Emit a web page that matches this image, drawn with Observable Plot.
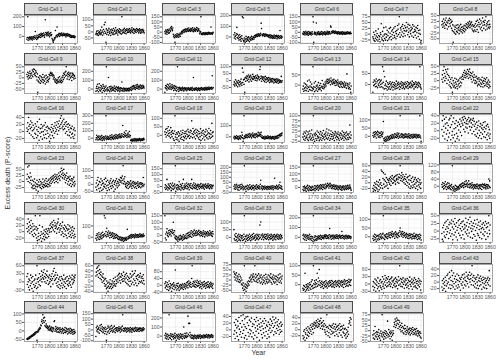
<!DOCTYPE html>
<html><head><meta charset="utf-8">
<script src="https://cdn.jsdelivr.net/npm/d3@7"></script>
<script src="https://cdn.jsdelivr.net/npm/@observablehq/plot@0.6"></script>
<style>
body{margin:0;background:#fff;font-family:"Liberation Sans",Arial,sans-serif;}
#chart{position:relative;width:500px;height:359px;overflow:hidden;background:#fff;}
.strip{position:absolute;box-sizing:border-box;background:#d9d9d9;border:0.5px solid #4d4d4d;font-size:5.1px;color:#333;text-align:center;line-height:11px;white-space:nowrap;}
.panel{position:absolute;}
.ttl{position:absolute;font-size:7px;color:#333;font-weight:normal;white-space:nowrap;}
</style></head><body><div id="chart"></div>
<script>
const firstYear = 1745;
const xTicks = [1770, 1800, 1830, 1860];
const cellIds = [1,2,3,5,6,7,8,9,10,11,12,13,14,15,16,17,18,19,20,21,22,23,24,25,26,27,28,29,30,31,32,33,34,35,36,37,38,39,40,41,42,43,44,45,46,47,48,49];

const cell1 = [-30,-12,200,-40,-18,-25,-8,-35,-15,-22, -5,-28,-10,-38,-20,-2,-15,-30,-12,5, 50,-20,-8,-32,10,-15,-25,2,-10,18, -5,20,8,-12,30,15,-2,25,5,12, 35,10,-8,22,170,40,15,28,5,38, 20,45,10,30,-5,25,12,40,8,18, -20,-35,-48,-60,-42,-30,-15,-25,60,-8, 5,10,95,-5,15,20,8,30,-2,25, 15,28,10,35,20,5,22,12,32,18, 8,25,15,-5,20,10,28,5,15,22, 12,-2,18,8,-8,10,2,-12,5,-5, 0,-10,8,-6,-15,-3];
const cell2 = [-20,-10,5,-25,-15,10,-30,-5,-18,0, -12,15,-22,-8,40,8,-28,-3,20,-15, 60,5,80,-10,-85,25,-20,10,-5,15, -25,30,0,-12,18,-30,8,-5,22,-18, 12,-8,28,-22,5,15,-15,35,-2,10, -10,20,-25,5,12,-5,25,0,-12,18, 8,-18,125,10,-8,22,-2,15,30,-10, 5,18,-15,12,25,-5,8,20,-2,15, 28,0,12,-8,22,5,35,10,-5,18, 25,-12,8,20,2,15,-5,28,10,22, 5,18,-8,12,25,0,15,-10,20,8, -5,15,22,2,10,-8];
const cell3 = [5,-15,20,-5,10,-20,25,0,15,-10, 30,-5,20,10,45,35,55,25,15,40, -20,-45,-30,-55,-98,-40,-25,-50,-35,-15, -45,-30,-20,-50,-38,-25,-10,-40,-18,-5, 5,-15,10,-5,20,15,0,25,8,30, 18,5,28,12,35,20,10,40,22,15, 25,8,35,18,30,12,42,20,5,28, 15,38,22,10,30,25,45,18,8,35, 20,30,12,-15,-5,5,150,-20,-12,-25, -10,-18,-5,-22,-15,-8,-25,-12,-3,-20, -15,-6,-22,-10,-2,-18,-12,-5,-20,-8, 50,-15,-5,-20,-10,-2];
const cell5 = [20,-10,40,5,-20,15,30,90,-5,25, -15,10,-30,-5,20,-25,0,-40,-15,10, 190,-20,180,-35,-45,-10,-30,-50,-20,5, -40,-15,-25,-5,-35,0,-20,-45,-10,-28, -8,-30,5,-18,-12,-25,0,-8,-20,10, -5,15,0,20,10,25,5,18,30,12, 22,8,28,15,35,130,80,20,10,25, 18,30,12,25,5,20,28,10,15,22, 8,18,2,15,-5,10,20,-10,5,15, -8,12,0,-15,8,-5,18,-12,3,10, -10,5,15,-18,0,8,-6,12,-15,2, 60,-8,10,-12,5,-3];
const cell6 = [-10,-20,5,-15,0,-25,-8,10,-18,-5, -22,2,-12,-28,8,-15,-5,-20,0,-10, -25,-8,5,-18,150,100,-95,-12,2,-20, -5,-15,90,-25,0,-10,-18,5,-8,-22, -12,2,-20,-6,-15,8,-10,-25,0,-14, -4,-18,5,-10,-22,0,-8,-15,10,-5, -20,2,-12,8,-5,-15,60,50,5,-8, 10,-2,15,0,8,-10,5,12,-5,2, -8,5,-15,0,-10,6,-12,-3,-18,2, -8,-15,0,-12,5,-20,-5,-10,2,-15, -6,-18,0,-10,-3,-15,5,-8,-12,0, -10,-5,-15,2,-8,-12];
const cell7 = [-12,-20,8,-27,-3,-31,-18,14,-8,-24, 3,-14,-30,22,-6,-22,-11,-33,6,-2, 45,-17,-25,12,-9,-29,28,-4,-19,1, -26,31,-13,-1,17,-28,-7,9,-21,24, -15,4,29,-10,-24,13,-3,19,-18,7, 26,-6,-14,33,11,-20,2,16,-9,37, 21,-2,44,75,6,-13,27,18,-4,33, 9,41,-11,24,3,15,36,-7,28,12, 50,17,31,-3,42,8,23,-12,38,14, 2,30,19,-8,25,40,7,-14,34,11, 20,-5,13,29,-17,6,24,37,-10,16, 4,-22,18,-1,-35,-28];
const cell8 = [10,25,0,15,35,5,20,-5,30,12, 40,8,22,-8,18,30,2,28,38,15, 5,32,20,-5,25,-15,10,-65,-20,5, -25,-10,0,-30,8,-18,-5,-22,10,-12, -2,-28,5,-15,-8,12,-20,0,-10,-25, 2,-15,-5,8,-20,-8,5,-12,15,0, 10,-5,20,2,15,8,25,-2,12,18, 5,22,-8,10,-15,3,-20,8,-12,0, 15,-18,25,5,-10,30,10,-22,20,2, 35,12,-8,28,0,18,-15,40,8,25, -5,20,10,30,-12,45,5,15,-8,22, 10,0,28,-5,12,2];
const cell9 = [15,5,25,-5,10,20,0,30,8,18, -2,22,12,35,5,28,40,15,38,20, 10,32,25,5,-10,18,-65,-15,2,-20, -5,10,-25,-12,5,-18,0,-8,15,-22, -10,2,-15,8,-28,-5,12,-20,0,-12, 5,-18,-8,15,-2,10,20,25,12,18, 22,8,15,-5,10,2,-10,-18,-5,-20, -12,-25,-8,-15,-22,0,-18,-10,5,-20, -15,-5,-22,-12,2,-18,10,-8,20,0, 15,25,8,30,50,12,-5,20,5,15, 25,-8,10,18,0,22,5,-12,12,20, 2,15,-5,10,8,-2];
const cell10 = [-25,10,30,-15,55,5,-30,20,60,-10, 15,-20,40,0,25,-35,10,50,-15,30, 5,-25,20,-10,35,250,0,-20,15,-5, 130,-15,25,-30,10,-8,30,-22,5,18, -12,20,0,-18,35,8,-25,12,-5,25, -8,15,-20,5,22,-12,10,-28,0,15, -15,8,80,-20,2,-10,12,-25,5,-8, -18,0,10,-12,-22,5,-6,-15,8,-20, 2,-10,15,-5,20,-15,10,30,0,25, 40,5,20,35,-5,15,45,10,28,50, 8,22,35,-2,30,15,45,20,5,38, 25,10,42,18,30,12];
const cell11 = [-35,15,40,5,30,-10,55,20,10,45, 0,25,60,12,35,-5,20,50,8,30, 15,-15,40,5,25,-10,30,10,-20,20, 250,-5,15,-25,5,20,-12,8,-5,12, -15,5,20,-8,10,-20,2,15,-10,8, -5,12,-18,0,10,-8,15,-2,5,-12, 8,-5,15,-10,2,20,-15,5,130,-8, 10,-12,2,8,-5,15,-10,5,-18,0, 12,-6,8,-15,3,10,-8,18,-2,6, -10,12,2,-5,15,-12,8,0,20,-6, 5,18,-8,10,2,22,-5,12,8,15, 3,20,-2,150,10,18];
const cell12 = [-30,-10,-40,-20,5,-25,-35,-5,-15,-45, -20,0,-30,-12,-40,-8,-25,10,-18,-35, 90,-15,60,5,-28,10,-85,20,-5,25, 15,35,0,28,10,40,-10,22,30,5, 38,18,-5,25,12,45,8,30,15,20, 28,2,35,15,22,-2,40,12,30,18, 25,5,80,100,15,32,-5,20,10,28, 18,2,25,-8,12,30,5,-12,20,8, 15,-5,22,0,10,-15,18,5,-8,12, 2,-10,15,-5,8,-18,10,0,-12,5, -8,12,-15,2,-5,10,-20,-2,5,-10, -15,0,-5,30,-12,-2];
const cell13 = [-20,-5,-30,10,-15,-25,5,-10,-28,0, -18,20,-8,-30,-12,25,-22,-5,15,-25, -10,5,-28,-15,90,-20,-8,10,-32,-12, 18,-25,-5,-18,0,-30,-10,12,-22,-15, -2,-20,8,-12,-28,-6,22,-15,-8,5, -18,0,-10,15,5,-5,20,10,28,18, 8,25,12,30,15,22,2,35,18,10, 25,5,20,12,28,8,15,-2,22,10, 18,0,12,25,5,-5,15,8,-10,10, 2,18,-8,5,12,-12,8,0,-5,15, -10,5,-2,10,-15,55,0,8,-8,-18, 2,-12,10,-20,-35,-5];
const cell14 = [-35,10,-5,20,0,15,-10,5,25,-8, 12,-15,18,2,-5,22,8,-12,15,0, 20,-10,5,80,-15,10,60,-20,35,-5, 2,-18,15,-8,-25,8,-12,0,-20,5, -10,12,-22,-2,5,-15,-8,10,-25,0, -12,8,-5,-20,2,-10,15,-18,-3,5, -15,10,0,-8,-22,5,-12,2,12,-5, -18,8,-2,-12,5,-20,0,10,-8,-15, 3,-10,12,-5,-18,8,0,-12,5,-8, 10,-15,2,-5,15,-10,-2,8,-20,0, 5,-12,12,-8,0,8,-15,2,-5,10, -10,5,80,-2,-12,-20];
const cell15 = [5,20,-5,35,10,48,25,0,15,38, 8,30,-10,22,40,2,18,-15,12,-5, -20,5,-25,-10,10,-40,-15,0,-22,-8, -18,8,-25,-5,-12,5,-20,-28,-2,-15, 2,-10,-22,8,-5,-18,12,-8,5,15, 20,5,28,12,35,18,25,10,30,22, 15,38,25,8,32,20,40,12,28,18, 5,25,-5,15,30,10,2,20,-8,12, 0,-10,15,-5,8,-18,5,-12,10,-2, -15,5,-8,-20,2,-12,12,-5,-22,0, -10,8,-18,-2,5,-15,-8,10,-20,-5, -12,2,-25,-15,-5,-20];
const cell16 = [10,0,25,5,40,15,-5,20,8,30, -10,12,25,2,-15,18,5,-20,10,-5, 22,-8,15,-18,5,28,-12,0,12,-25, 35,-5,8,-15,20,-2,10,-22,15,0, -10,18,-18,5,25,-8,12,-20,2,15, -5,10,-15,8,-28,-10,5,-20,12,-2, 20,-12,8,2,-18,15,-5,25,10,0, 18,5,28,-8,12,22,2,30,15,8, 38,20,45,25,10,30,15,5,35,20, 8,25,-5,15,28,0,20,-10,12,22, 5,-12,18,-2,10,-18,8,-8,15,-5, -15,5,-20,10,-10,2];
const cell17 = [-20,5,40,-10,20,-25,10,30,-15,0, 25,-20,15,-5,35,-30,10,-12,20,0, -25,15,-8,30,300,5,-18,25,-5,10, -15,20,0,-10,35,8,-20,15,45,-5, 10,25,-12,30,5,40,-8,18,50,2, 20,35,-5,15,45,10,28,55,5,22, 40,12,60,30,170,20,50,15,80,35, 60,25,100,40,10,55,30,70,20,45, 90,15,35,-30,-20,-35,-15,-25,-38,-10, -28,-20,-35,-5,-25,-15,-40,-22,-8,-30, -18,-32,-12,-25,-5,-20,-35,-10,-28,-15, -22,-8,-30,-12,0,-18];
const cell18 = [20,5,35,-10,15,40,0,25,50,10, -5,30,15,-15,45,5,20,-8,28,12, -20,10,-30,25,115,-10,5,-25,15,-15, 8,-28,20,-5,-35,12,0,-20,25,-12, 5,-25,15,30,-8,-30,10,-15,22,-5, 12,-20,25,5,-10,35,-5,20,0,-18, 15,30,-8,25,85,10,-15,40,5,20, -10,28,12,-20,35,0,18,-5,30,8, -15,22,-25,10,-8,38,-30,15,0,25, -20,12,30,-10,5,-28,20,-5,35,0, -15,25,8,-22,15,40,-8,10,-18,28, 5,-12,70,15,-5,20];
const cell19 = [-10,5,-20,0,-5,-15,10,-8,-18,2, -12,-25,5,-8,-15,10,-20,0,-5,40, 15,-10,-40,-18,190,5,-12,8,-5,20, -2,15,-8,10,25,0,18,-5,30,12, 5,20,-10,22,8,35,2,15,-5,25, 10,-8,18,30,5,22,-2,12,40,8, 25,15,35,5,20,40,-5,10,-12,-5, -15,0,-10,-20,5,-8,-18,2,-12,-5, -15,8,-10,-2,-18,0,-8,5,-12,-20, -5,-15,2,-10,-18,0,-8,-22,5,-12, 0,-10,5,-15,8,-5,12,-8,15,20, 5,25,10,30,15,35];
const cell20 = [-5,10,-15,20,0,-20,15,-10,25,-5, 5,-15,20,-22,10,-8,25,0,-18,12, -10,30,-20,5,-5,100,-15,10,-25,2, 15,-12,8,-20,25,0,-10,18,-5,-22, 10,-15,22,-8,5,-20,15,0,-12,28, -5,8,-18,12,0,20,-10,35,5,-15, 15,-8,30,2,-20,10,-12,25,-2,8, -15,18,0,-10,12,-22,5,22,-8,15, 0,-18,10,-5,20,-12,8,-20,2,15, -8,12,-15,5,25,-10,0,18,-20,8, -5,15,-12,2,20,-18,10,-8,5,-15, 12,-5,55,20,-10,5];
const cell21 = [5,20,-5,25,10,0,28,15,-10,22, 8,30,12,-5,25,2,18,-8,20,5, 28,10,-2,15,25,90,-15,-25,-10,-30, -20,-5,-28,-12,-18,0,-25,-8,-15,-2, -20,-10,5,-15,0,-8,10,-12,2,-5, 8,-10,15,0,-5,12,-8,5,20,-2, 10,-12,18,2,-5,125,8,-8,15,0, 12,-5,5,-10,10,2,-8,15,-2,8, -5,12,0,-10,8,-2,15,-8,5,-12, 2,10,-5,8,-10,0,12,-8,5,-2, 10,-6,2,12,-10,5,-2,8,-8,3, 10,-5,125,2,-10,-30];
const cell22 = [3,27,-14,40,12,-4,31,-22,18,7, 36,-9,21,-26,1,14,-17,29,-6,33, 9,-24,40,16,-12,-2,24,-19,34,5, -11,19,-28,8,27,-7,-21,13,-15,23, 2,-25,17,31,-4,11,26,-13,20,35, 15,29,4,38,22,-3,33,10,19,26, 7,30,18,-6,35,24,11,27,2,31, 21,9,-8,28,16,33,-2,25,12,-11, 18,4,-15,23,8,-7,14,-19,26,1, -13,11,19,-5,-21,7,15,-9,3,22, -16,9,-3,24,-18,5,13,-11,-24,17, -6,10,-14,3,-20,-9];
const cell23 = [10,30,60,0,20,65,15,-5,35,5, 20,-10,-25,5,-18,-30,0,-15,10,-28, -5,-20,-35,-10,5,-22,-12,-40,-2,-18, 8,-15,-25,0,-10,-30,-5,-20,10,-12, -25,-2,-15,5,-20,-8,12,-18,0,-10, -22,5,-12,10,-5,-18,2,15,-8,8, 20,-2,12,25,5,18,-5,30,10,22, 0,15,28,8,-5,20,35,12,25,5, 40,20,55,30,45,15,35,25,50,10, 30,18,-5,25,5,35,12,-10,20,0, 15,-15,8,22,-8,5,-20,12,2,-12, 10,-5,18,-18,0,-10];
const cell24 = [-20,10,-40,30,-10,50,0,-30,20,-50, 15,-25,40,-5,-45,25,5,-35,10,-15, 35,-20,0,45,-30,20,-10,-45,30,-5, -25,15,-40,5,25,-15,40,-30,10,-8, 20,-20,30,-50,0,15,-35,25,-10,40, 5,-25,20,-12,10,35,-5,30,15,50, 25,45,10,60,30,135,5,40,20,55, 0,-15,10,-25,5,-10,20,-30,0,15, -20,8,-5,25,-15,2,-28,12,-8,20, -12,5,-25,15,0,-18,10,-30,5,-10, 18,-5,-22,8,-15,2,12,-25,-2,10, -18,5,-8,50,-12,0];
const cell25 = [-10,15,-25,5,-15,60,-5,-30,20,-12, 10,-20,0,25,-8,-35,12,-18,30,2, -25,8,-15,20,-5,175,-40,10,-20,-8, 15,-28,5,-12,40,-22,0,18,-30,-5, 10,-18,25,-8,60,-25,5,-12,20,-2, -15,8,30,-20,0,15,-10,22,-28,5, 12,-8,25,-15,60,5,-20,15,-5,30, -10,8,-18,20,0,-12,10,-25,5,18, -5,12,-20,2,15,-8,25,0,-15,10, -2,18,-12,5,-22,12,0,20,-8,5, -15,10,-5,22,2,-12,8,-20,15,0, -8,12,-18,5,-2,10];
const cell26 = [10,-15,25,0,-20,15,30,-8,5,-25, 20,-5,-30,12,0,25,-18,8,-10,30, -5,15,-25,5,-12,215,0,-20,10,-40, 5,-15,20,-8,-25,12,0,-18,25,-5, -10,8,-22,15,0,-12,20,-5,-28,10, 2,-15,12,-8,25,-20,5,-2,15,-12, -5,10,-18,30,70,2,-10,15,-25,5, -12,8,-2,-20,12,-8,0,-15,5,-22, -2,10,-12,5,-20,0,8,-15,-5,12, -18,2,-8,15,-25,-5,10,90,-12,0, 8,-15,20,-5,5,-20,12,-10,25,0, 50,-8,15,-12,5,-20];
const cell27 = [-15,5,-25,-5,10,-20,0,-10,-28,5, -8,15,-18,-2,-25,10,-12,5,-20,0, -5,-22,8,-15,2,160,-18,-8,12,-25, -5,10,-15,5,-10,15,0,-20,8,-5, 12,-12,20,2,-8,15,5,-15,22,0, 10,-5,18,-10,25,5,-2,15,8,30, 12,20,-5,10,25,30,5,15,-8,18, 2,12,-10,8,20,-5,10,-15,5,15, -8,2,-12,10,-18,0,8,-10,-2,12, -15,5,-5,-20,8,0,-12,10,-5,-18, 5,-10,12,-2,-15,8,-8,15,0,-12, 10,-5,18,2,-10,-20];
const cell28 = [-20,-30,-10,-25,0,-15,-28,-5,-18,5, -22,-8,-30,2,-12,-25,10,-5,-18,0, 45,-10,40,-20,15,35,-5,10,-15,30, 5,-12,18,0,-8,12,-20,8,2,15, -5,10,20,-10,5,15,25,-2,12,0, 18,8,22,5,-5,25,10,15,28,2, 12,20,-2,30,18,60,8,25,15,35, 5,20,28,10,0,15,22,-5,12,30, 5,-10,18,0,22,-15,10,-5,25,-20, 8,-12,15,2,-18,20,-8,5,-15,12, -5,18,-20,0,10,-12,5,-25,15,-8, 2,-15,10,-5,-20,0];
const cell29 = [10,-5,20,0,-15,15,5,-10,25,-2, 8,-18,12,-5,20,-12,0,15,-8,5, -15,2,-20,10,-5,115,-12,-25,-2,-18, -10,-28,5,-15,-22,0,-12,-5,-20,-8, -2,-15,5,-10,8,0,12,-5,15,2, 20,5,-8,15,8,25,-2,10,30,12, 2,18,-5,10,30,8,-8,15,0,12, -10,5,20,-5,8,-15,2,10,-8,0, 5,-12,8,-2,12,-10,0,6,-15,5, -5,10,-12,2,8,-18,0,12,-5,8, -10,5,12,-8,2,-15,10,0,-5,8, -12,5,40,-2,30,-8];
const cell30 = [10,25,0,40,15,5,30,-5,20,10, 35,0,15,-10,25,5,-15,18,-5,8, 50,-10,15,-20,5,-28,10,-15,-5,-25, 20,50,-12,-20,0,-30,-8,15,-22,-5, -15,5,-25,-10,0,-18,8,-5,-20,2, -8,10,-15,5,-2,20,10,25,0,15, 30,12,22,5,35,18,0,28,10,20, 15,-5,25,8,30,40,12,-2,20,5, 25,10,-10,18,0,30,-5,12,-15,8, 20,-8,2,15,-12,10,-20,5,22,-5, 8,-15,18,0,-10,12,-18,5,-5,15, -12,2,-20,10,-8,-15];
const cell31 = [-10,15,-25,30,0,20,-15,40,5,-20, 25,-5,10,35,-12,18,45,0,22,10, 190,30,170,15,50,5,80,25,40,10, 55,20,35,-5,45,15,30,0,25,40, 10,35,-10,20,5,30,-8,15,-2,25, 0,15,-12,8,-20,5,-15,-5,-25,2, -18,-8,-30,-2,-22,-12,-35,-5,-15,-28, -10,-20,0,-25,-8,70,-15,5,-10,8, -5,15,2,20,-8,10,25,0,18,5, 22,8,-5,15,28,2,12,20,-2,25, 10,18,0,22,8,30,5,15,25,12, 2,20,10,28,8,15];
const cell32 = [150,-20,10,-35,25,50,0,15,-10,35, 20,5,40,10,30,-5,25,45,15,35, 100,20,5,35,-15,-25,-5,-30,-10,-35, -20,-45,-15,-28,-5,-35,-22,0,-30,-12, -25,-8,-38,-18,5,-30,-12,-25,-2,-20, -15,10,-25,-5,15,-18,0,20,-10,5, 25,-8,12,35,-15,20,5,30,-5,15, 40,10,-2,25,15,35,0,20,8,30, 12,38,5,22,-5,30,15,0,25,10, -8,20,35,5,15,-12,28,10,2,22, 15,-5,30,8,20,-2,12,35,5,18, 25,0,15,-8,30,10];
const cell33 = [50,-10,15,-20,5,25,-15,0,-25,10, -5,20,-18,5,-12,15,-22,0,10,-8, 12,-20,2,-15,20,140,-10,5,-25,8, -12,15,-5,-20,10,0,-15,20,-8,5, -22,12,-2,-15,18,5,-10,25,-5,0, 10,-18,15,2,-10,20,-5,12,-15,5, 18,-8,80,0,100,15,-12,10,22,-2, 8,-15,15,0,20,-8,5,18,-12,10, -5,22,2,-15,12,-2,15,-10,5,20, -8,10,0,-18,15,5,-10,18,-2,8, -15,12,2,20,-8,5,15,-12,0,10, -5,18,-10,5,12,-2];
const cell34 = [20,-15,30,5,-25,15,-5,25,-30,10, -10,20,0,-20,15,-8,30,-25,5,-15, 10,-30,-10,5,-40,220,-20,0,-35,15, -25,5,-15,-30,10,-8,-20,0,15,-12, 5,-18,20,-5,-22,12,0,-10,18,-2, -15,8,22,-5,10,25,-12,15,5,-8, 18,0,-15,25,90,10,-5,20,-20,8, 15,-10,22,2,-18,12,-5,20,0,-12, 10,25,-8,5,18,-15,12,0,22,-5, 8,-12,15,60,-2,20,-10,5,12,-18, 2,15,-8,20,5,-15,10,-2,18,-10, 5,12,-5,8,-12,2];
const cell35 = [-10,5,-20,0,15,-15,-5,10,-25,2, -12,8,-18,5,-8,12,-15,0,18,-5, 5,-10,15,-2,20,120,-8,10,-15,5, 0,12,-5,18,2,-10,15,5,22,-2, 10,25,-5,15,8,20,30,0,12,18, 5,22,-8,15,28,10,0,20,12,-5, 18,8,25,2,35,50,15,28,5,20, 12,30,-2,18,8,25,5,15,-5,10, 20,0,12,-8,15,5,-10,8,18,-2, 10,-5,15,-12,2,12,-8,5,20,0, -10,8,2,15,-5,10,-15,5,12,-8, 2,-12,15,-5,8,-18];
const cell36 = [-8,-27,11,-33,19,-3,-16,27,-21,6, 32,-11,14,-2,37,9,-24,21,-6,29, 3,-17,24,36,-9,13,-28,31,7,-13, 22,41,-4,16,-19,27,3,-29,12,34, -7,19,38,-14,8,25,-22,1,30,14, -12,33,6,-26,21,10,-3,42,17,-9, 28,4,-16,37,13,-6,24,45,-20,9, 31,-1,18,-23,7,26,-11,15,35,-17, 2,23,-30,11,38,-8,19,-14,29,5, -21,16,33,-4,8,-25,22,12,-10,27, 6,-15,19,-2,31,-27,11,24,-7,14, -18,27,50,3,-9,20];
const cell37 = [20,-10,30,0,-20,10,-30,5,-15,25, -5,15,-25,0,20,-35,-10,5,-20,10, -15,25,-5,-25,60,10,-20,0,15,-10, 30,5,-15,20,10,40,0,25,15,35, 10,45,20,0,30,15,-5,25,40,5, 20,-10,15,-5,25,0,10,-18,20,5, 30,12,-8,40,20,50,5,25,10,35, -5,15,-15,25,0,-20,10,-10,18,-25, 5,-15,20,-5,12,-22,8,-12,25,0, -18,10,-5,15,-25,2,20,-10,5,-15, 12,-5,22,0,-12,15,-20,8,25,-8, 10,-2,20,5,15,25];
const cell38 = [20,35,50,25,55,40,15,60,30,45, 10,25,35,5,20,-5,15,28,0,12, -10,5,-20,10,-15,-30,0,-25,-8,-40, -20,-5,-28,-12,5,-22,-10,-30,-15,0, -25,-8,10,-18,-2,-12,15,-20,5,-10, 0,20,8,-5,25,12,30,2,18,-8, 15,28,5,22,-2,10,35,0,18,8, 25,-5,12,30,-10,20,5,-15,15,-2, 10,-20,28,0,15,-12,20,38,-5,25, 8,-15,30,2,40,-8,18,10,-18,22, 5,25,-10,15,-2,20,30,-5,12,0, 18,-8,10,25,2,-12];
const cell39 = [10,-15,20,-5,0,-25,15,-10,5,-30, 25,-8,-20,10,-12,0,-35,5,-18,8, -5,15,-25,2,-10,90,-15,0,-28,10, -5,-20,12,-12,-30,0,-8,-22,5,-15, -2,-18,8,-10,-25,2,-12,10,-5,-20, 5,-10,15,-2,20,-15,8,25,0,12, -8,18,5,-12,40,115,10,-5,22,2, 15,-8,25,5,-12,18,0,30,-5,12, 20,-2,10,-15,25,5,-8,15,-20,8, 0,18,-10,5,22,-5,12,-18,8,-2, 15,-12,5,20,-8,2,-15,10,-5,18, 5,-10,12,-2,-18,8];
const cell40 = [40,15,30,0,25,10,35,-5,20,5, 15,-8,28,2,-12,18,-5,10,-20,0, -25,-40,-15,-50,-30,70,-45,-20,-35,-55, -25,-40,-10,-30,-18,-5,-25,10,-8,15, 0,25,5,-10,20,12,30,2,18,-5, 70,10,28,-8,15,0,22,-12,5,30, 8,-5,20,-15,12,25,-10,5,-20,15, 0,-12,22,-5,10,-18,28,2,-8,15, -15,5,25,-10,0,20,-5,12,30,-12, 8,-20,15,2,25,-8,10,-15,20,5, -10,18,0,-22,12,-5,25,5,-12,10, 30,-5,15,-15,5,20];
const cell41 = [-20,-30,-5,-25,-10,60,-35,-15,0,-28, -8,-20,5,-12,-30,-2,10,-18,0,-25, 15,-10,25,-5,-20,100,5,-15,20,0, 10,-12,25,5,60,-8,15,35,0,80, 20,-5,10,-15,5,18,-10,0,12,-20, 8,-5,15,-12,2,20,-8,10,-18,5, -2,15,-10,8,20,-5,12,0,22,-12, 5,18,-8,10,2,-15,15,-2,20,8, -10,12,0,18,-5,8,22,-12,5,15, -2,10,20,-8,12,0,18,-15,8,25, 2,15,-10,20,5,-5,22,10,-8,15, 28,0,12,20,-5,25];
const cell42 = [-10,10,-25,5,-15,20,0,-30,15,-5, 8,-20,25,-12,2,-28,12,-8,18,-15, 5,-22,10,30,-10,0,20,-18,8,35, -5,15,25,-12,5,20,-8,30,10,-2, 18,5,-10,22,0,28,12,-15,8,15, -5,20,2,-12,25,10,-8,18,5,-20, 12,30,-5,15,75,0,22,-10,8,18, -12,5,25,-2,12,-18,8,20,-5,15, 0,-15,22,5,-8,15,-20,10,28,-2, 12,-10,5,20,-22,8,0,15,-12,25, 5,-8,18,-15,10,2,-20,12,-5,22, 8,-12,15,0,-25,10];
const cell43 = [-15,5,-25,-5,10,-20,0,-10,15,-28, 5,-12,20,-5,25,0,-18,10,30,-8, 15,-20,5,35,-10,20,2,-15,28,-5, 10,-22,18,0,-12,8,25,-18,5,-8, 20,-15,2,12,-25,8,-5,15,-10,22, 0,-18,10,25,-8,15,5,-12,30,2, 18,-5,12,22,-15,8,30,0,20,10, -8,25,50,5,15,-10,20,2,-15,12, -5,8,-18,15,0,-10,22,-20,5,12, -12,2,18,-8,10,-22,5,-2,15,-15, 8,-5,-18,12,0,-10,5,-20,10,-2, 15,-8,5,35,10,-12];
const cell44 = [-48,-45,-50,-42,-46,-38,-44,-35,-40,-32, -36,-28,-33,-25,-30,-20,-26,-15,-22,-10, -18,-8,-12,-5,-55,-2,-8,5,0,12, 8,20,15,35,30,55,65,45,95,60, 75,50,80,30,60,25,40,20,30,15, 25,5,18,10,28,2,15,8,22,0, 12,-5,20,5,15,55,60,-2,10,25, 0,15,-8,8,20,-5,12,-10,5,18, -2,10,-12,8,-5,15,2,-15,10,-8, 5,20,-10,0,15,-5,8,-18,-2,12, -12,5,-8,15,-2,-15,10,0,-10,5, -20,-5,8,-15,-2,-10];
const cell45 = [-60,20,-10,35,5,-20,10,25,-30,0, 40,-5,15,50,-15,30,5,-25,20,-10, 10,-35,25,-15,5,-95,-40,15,-20,35, -10,20,-30,5,30,-15,10,40,-5,15, -20,25,0,-12,35,8,-25,15,-5,20, 5,-15,20,-8,10,30,-2,15,-20,8, 25,-10,5,35,140,-5,15,-15,10,0, 20,-8,12,-20,5,18,-12,0,15,-5, 8,-18,22,2,-10,12,-22,5,18,-8, 0,15,-15,10,25,-5,8,-12,20,2, -8,15,5,-15,10,20,-5,12,0,-10, 15,5,-8,20,2,10];
const cell46 = [10,-20,30,0,-30,15,-10,20,-35,5, 235,-15,10,-25,25,0,-40,15,-10,20, -5,-30,10,-15,30,-20,0,-45,15,-10, 5,-25,20,-8,-35,10,-15,25,-5,-20, 15,0,-28,20,-10,100,5,-22,30,-8, 10,-15,35,0,-5,220,20,140,5,140, 40,-10,15,-20,5,-25,10,-15,0,-30, -8,12,-20,5,-12,-28,0,-18,10,-5, -22,8,-10,-2,15,-25,0,-12,5,-18, 2,-8,12,-20,0,10,-15,5,-5,18, -10,2,-18,8,15,-5,-20,10,0,-12, 5,18,-8,10,-15,2];
const cell47 = [-13,22,-3,-26,14,31,-9,6,-19,26, 11,-30,37,2,-14,19,-6,42,-22,8, 27,-11,45,-1,16,-24,33,9,-17,38, 4,-28,21,40,-8,13,-19,29,1,-12, 24,-3,35,-21,10,18,-9,-27,15,31, -16,6,25,-4,37,-23,12,2,28,-10, 17,-31,8,33,-2,21,-14,11,-24,26, 3,-9,19,34,-18,6,27,-5,14,-26, 10,-13,23,-1,-21,16,5,32,-8,13, 26,-3,19,38,7,-15,30,12,-6,21, 35,-10,4,24,14,-2,30,9,-13,18, 1,-7,23,11,-4,16];
const cell48 = [-20,-30,-5,-25,0,-35,-10,-15,5,-28, -2,-18,10,-8,-22,5,-12,0,15,-5, 8,-15,20,2,12,-10,18,25,5,15, 22,10,30,15,25,8,35,20,12,28, 18,30,5,38,22,12,25,2,15,30, 10,20,0,-8,15,-15,8,50,-5,10, -20,5,-10,15,-25,0,12,-15,8,-5, 15,-12,5,20,-8,10,-20,2,18,-5, 8,-15,12,0,-22,15,5,-10,20,-2, 10,-18,0,12,-25,5,-8,15,-12,2, -20,5,-15,-28,0,-10,-22,-5,8,-15, 20,30,25,40,15,35];
const cell49 = [-20,-35,0,-15,-40,20,-25,-10,-30,-5, -18,-40,-8,-28,5,-22,-35,-12,-45,-2, -25,-15,75,-30,-8,-20,-40,-10,-28,0, -15,-35,-5,-22,-12,45,-30,-18,5,-25, -8,-38,-15,-2,-28,-10,-45,-20,0,-12, 20,40,30,55,15,45,25,60,35,50, 10,30,48,18,40,5,25,-5,15,35, 0,20,-10,12,-15,8,25,-5,10,-18, 2,-10,18,-2,8,-15,5,-8,12,-20, 0,10,-12,5,-5,15,-18,2,-10,8, -15,5,-5,-20,10,-12,-2,-25,0,-15, -8,-22,-5,-30,-12,-35];

const cellValues = [cell1,cell2,cell3,cell5,cell6,cell7,cell8,cell9,cell10,cell11,cell12,cell13,cell14,cell15,cell16,cell17,cell18,cell19,cell20,cell21,cell22,cell23,cell24,cell25,cell26,cell27,cell28,cell29,cell30,cell31,cell32,cell33,cell34,cell35,cell36,cell37,cell38,cell39,cell40,cell41,cell42,cell43,cell44,cell45,cell46,cell47,cell48,cell49];

const cellTicks = [
 [0,100,200],[-50,0,50,100],[-100,-50,0,50,100,150],[0,100,200],[-100,-50,0,50,100,150],[-25,0,25,50,75],[-50,-25,0,25,50],
 [-50,-25,0,25,50],[0,100,200],[0,100,200],[-50,0,50,100],[0,50],[0,50],[-25,0,25,50],
 [-20,0,20,40],[0,100,200,300],[-50,0,50,100],[0,100],[-25,0,25,50,75,100],[0,50,100],[-20,0,20,40],
 [-25,0,25,50],[-50,0,50,100],[-50,0,50,100,150],[-50,0,50,100,150,200],[0,50,100,150],[-20,0,20,40,60],[0,40,80,120],
 [-20,0,20,40],[0,100],[-50,0,50,100,150],[0,50,100],[0,100,200],[0,50,100],[-25,0,25,50],
 [-30,0,30,60],[-40,-20,0,20,40,60],[-40,0,40,80],[-50,-25,0,25,50,75],[0,50,100],[-30,0,30,60],[-20,0,20,40],
 [-50,0,50,100],[-100,-50,0,50,100,150],[0,100,200],[-20,0,20,40],[-20,0,20,40],[-50,-25,0,25,50,75]
];

// ---- layout ----
const chart = document.getElementById("chart");
const nCol = 7, colPitch = 69.1, rowPitch = 49.7, x0 = 24, y0 = 3;
const pw = 53, stripH = 12, ph = 28;
const ml = 22, mr = 4, mb = 12;
const fontFam = '"Liberation Sans", Arial, sans-serif';

function expand([lo, hi]) { const p = (hi - lo) * 0.05; return [lo - p, hi + p]; }
function minorOf(ticks, dom) {
  const step = ticks.length > 1 ? ticks[1] - ticks[0] : 50;
  const out = [];
  for (let t = ticks[0] - step * 1.5; t <= dom[1]; t += step) if (t >= dom[0]) out.push(t);
  return out;
}

cellIds.forEach((id, k) => {
  const r = Math.floor(k / nCol), c = k % nCol;
  const left = x0 + c * colPitch, top = y0 + r * rowPitch;
  const vals = cellValues[k];
  const data = vals.map((v, i) => ({year: firstYear + i, value: v}));
  const xDom = expand(d3.extent(data, d => d.year));
  const yDom = expand(d3.extent(vals));
  const yt = cellTicks[k].filter(t => t >= yDom[0] && t <= yDom[1]);
  const xMinor = minorOf(xTicks, xDom);
  const yMinor = minorOf(cellTicks[k], yDom);

  const strip = document.createElement("div");
  strip.className = "strip";
  strip.style.left = left + "px";
  strip.style.top = top + "px";
  strip.style.width = pw + "px";
  strip.style.height = stripH + "px";
  strip.textContent = "Grid-Cell " + id;
  chart.appendChild(strip);

  const svg = Plot.plot({
    width: ml + pw + mr, height: ph + mb,
    marginLeft: ml, marginRight: mr, marginTop: 0, marginBottom: mb,
    style: {fontSize: "5.1px", fontFamily: fontFam, color: "#555", background: "transparent", overflow: "visible"},
    x: {domain: xDom, ticks: xTicks, tickSize: 2, tickPadding: 1, tickFormat: d => String(d), label: null},
    y: {domain: yDom, ticks: yt, tickSize: 2, tickPadding: 1, tickFormat: d => String(d), label: null},
    marks: [
      Plot.frame({fill: "#fff", stroke: null}),
      Plot.ruleX(xMinor, {stroke: "#f2f2f2", strokeWidth: 0.35}),
      Plot.ruleY(yMinor, {stroke: "#f2f2f2", strokeWidth: 0.35}),
      Plot.ruleX(xTicks, {stroke: "#e6e6e6", strokeWidth: 0.6}),
      Plot.ruleY(yt, {stroke: "#e6e6e6", strokeWidth: 0.6}),
      Plot.dot(data, {x: "year", y: "value", r: 0.8, fill: "#000", stroke: null}),
      Plot.frame({stroke: "#4d4d4d", strokeWidth: 0.5})
    ]
  });
  svg.classList.add("panel");
  svg.style.left = (left - ml) + "px";
  svg.style.top = (top + stripH) + "px";
  chart.appendChild(svg);
});

const yTitle = document.createElement("div");
yTitle.className = "ttl";
yTitle.textContent = "Excess death (P-score)";
yTitle.style.left = "6.5px";
yTitle.style.top = "173px";
yTitle.style.transform = "translate(-50%,-50%) rotate(-90deg)";
chart.appendChild(yTitle);

const xTitle = document.createElement("div");
xTitle.className = "ttl";
xTitle.textContent = "Year";
xTitle.style.left = "258.5px";
xTitle.style.top = "352px";
xTitle.style.transform = "translate(-50%,-50%)";
chart.appendChild(xTitle);
</script></body></html>
